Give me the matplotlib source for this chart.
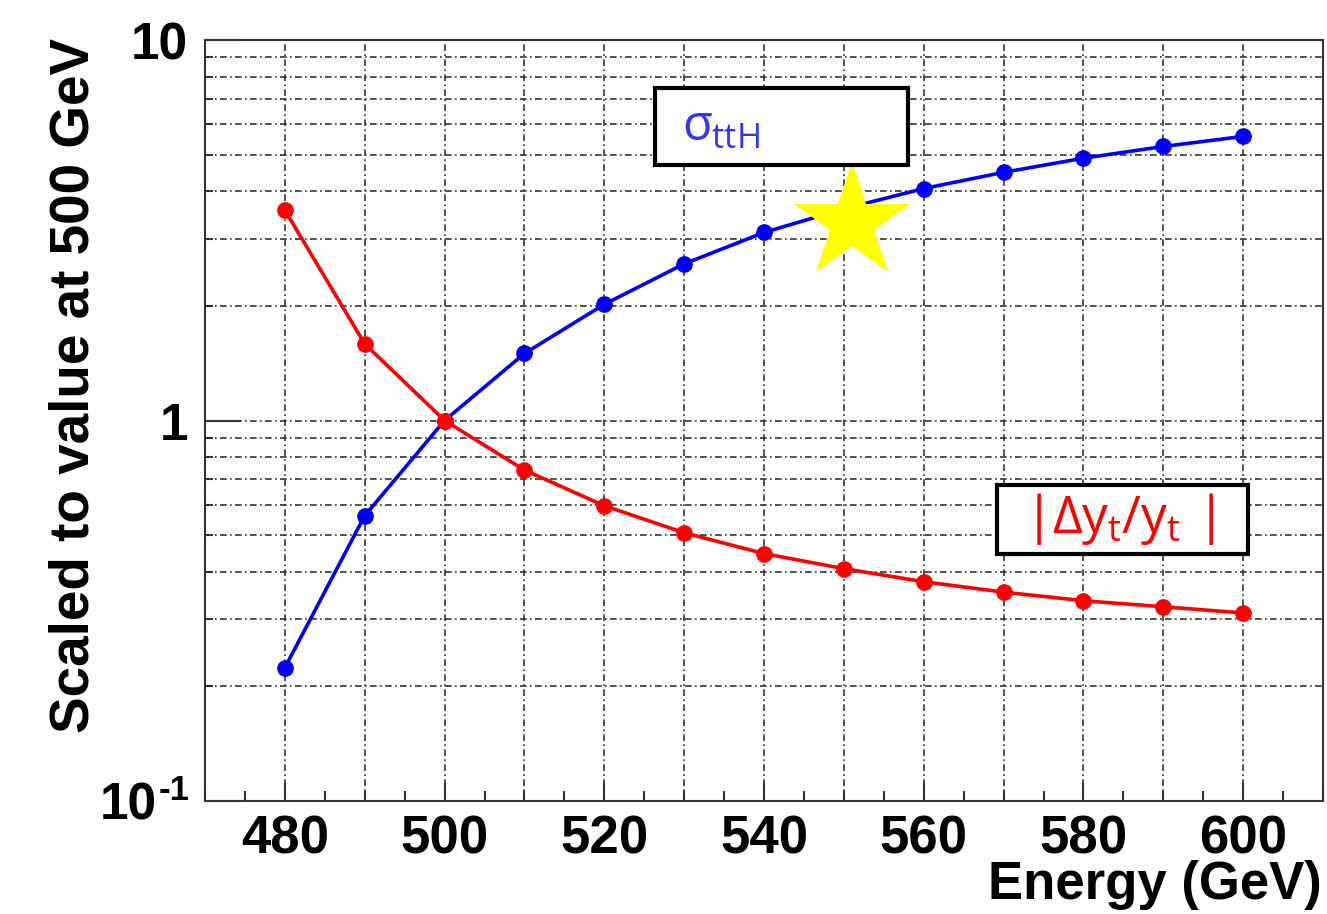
import numpy as np
import matplotlib
matplotlib.use('Agg')
import matplotlib.pyplot as plt
from matplotlib.patches import Rectangle
from matplotlib.ticker import FixedLocator, MultipleLocator, NullFormatter

# energies (GeV)
energy = [480, 490, 500, 510, 520, 530, 540, 550, 560, 570, 580, 590, 600]

# cross section scaled to 500 GeV
sigma_tth = [0.224, 0.562, 1.0, 1.50, 2.02, 2.58, 3.12, 3.60, 4.07, 4.49, 4.89, 5.25, 5.58]

# yukawa precision scaled to 500 GeV
dyt_yt = [3.57, 1.59, 1.0, 0.741, 0.597, 0.507, 0.447, 0.408, 0.377, 0.354, 0.336, 0.324, 0.312]

# yellow star marker
star_x = [551]
star_y = [3.3]

y_ticks = [0.1, 1, 10]
y_ticklabels = ['', '1', '10']   # 10^-1 drawn by hand below
x_labelled = [480, 500, 520, 540, 560, 580, 600]

plt.rcParams['font.family'] = ['Liberation Sans', 'DejaVu Sans']
plt.rcParams['mathtext.fontset'] = 'custom'
plt.rcParams['mathtext.rm'] = 'Open Sans'
plt.rcParams['mathtext.it'] = 'Open Sans'

W, H = 1327, 914
fig = plt.figure(figsize=(W / 100, H / 100), dpi=100)
ax = fig.add_axes([205 / W, 1 - 801 / H, 1118 / W, 761 / H])

ax.plot(energy, sigma_tth, '-o', color='#0000ff', lw=2.6, ms=11, zorder=3)
ax.plot(energy, dyt_yt, '-o', color='#ff0000', lw=2.6, ms=11, zorder=3)
ax.plot(star_x, star_y, '*', color='#ffff00', ms=88, mew=0, zorder=4)

ax.set_yscale('log')
ax.set_ylim(0.1, 10)
ax.set_xlim(470, 610)

# y ticks
ax.yaxis.set_major_locator(FixedLocator(y_ticks))
ax.set_yticklabels(y_ticklabels)
ax.yaxis.set_minor_locator(FixedLocator([m * d for d in (0.1, 1) for m in range(2, 10)]))
ax.yaxis.set_minor_formatter(NullFormatter())

# x ticks: grid every 10, labels every 20, minor every 5
ax.xaxis.set_major_locator(MultipleLocator(10))
ax.xaxis.set_minor_locator(MultipleLocator(5))
ax.set_xticks(ax.get_xticks())
ax.set_xticklabels([str(int(v)) if int(v) in x_labelled else '' for v in ax.get_xticks()])
ax.set_xlim(470, 610)

ax.tick_params(which='both', direction='in', colors='#333333', labelcolor='black',
               width=1.5, top=False, right=False)
ax.tick_params(axis='x', labelsize=38)
ax.tick_params(axis='y', labelsize=37)
ax.tick_params(axis='y', which='major', length=26, pad=12)
ax.tick_params(axis='y', which='minor', length=6)
ax.tick_params(axis='x', which='major', length=7, pad=10)
ax.tick_params(axis='x', which='minor', length=7)
for v, t in zip(ax.get_xticks(), ax.xaxis.get_major_ticks()):
    if int(v) in x_labelled:
        t.tick1line.set_markersize(13)
for lab in ax.get_xticklabels() + ax.get_yticklabels():
    lab.set_fontweight('bold')

# 10^-1 label with a plain hyphen
fig.text(157 / W, 1 - 806 / H, '10', ha='right', va='center', fontsize=37, fontweight='bold')
fig.text(159 / W, 1 - 790 / H, '-1', ha='left', va='center', fontsize=25, fontweight='bold')

for s in ax.spines.values():
    s.set_color('#333333')
    s.set_linewidth(1.5)

grid_style = dict(color='#333333', lw=1.2, linestyle=(0, (4, 2, 1, 2)))
ax.grid(True, which='major', axis='both', **grid_style)
ax.grid(True, which='minor', axis='y', **grid_style)
ax.set_axisbelow(True)

# labels
fig.text(75 / W, 1 - 385 / H, 'Scaled to value at 500 GeV', rotation=90,
         ha='center', va='center', fontsize=39.5, fontweight='bold')
fig.text(1322 / W, 1 - 885 / H, 'Energy (GeV)', ha='right', va='center',
         fontsize=38, fontweight='bold')

# annotation boxes
ax.add_patch(Rectangle((0.4025, 0.8357), 0.2265, 0.1013, transform=ax.transAxes,
                       facecolor='white', edgecolor='black', lw=3, zorder=5))
ax.text(0.4265, 0.884, r'$\sigma_{\mathrm{ttH}}$', transform=ax.transAxes,
        color='#3333ff', fontsize=35, va='center', ha='left', zorder=6)

ax.add_patch(Rectangle((0.708, 0.3246), 0.2245, 0.0906, transform=ax.transAxes,
                       facecolor='white', edgecolor='black', lw=3, zorder=5))
ax.text(0.733, 0.370, r'$|\Delta y_{\mathrm{t}}/y_{\mathrm{t}}\ |$', transform=ax.transAxes,
        color='#ff0000', fontsize=37, va='center', ha='left', zorder=6)

fig.savefig('out.png', dpi=100)
